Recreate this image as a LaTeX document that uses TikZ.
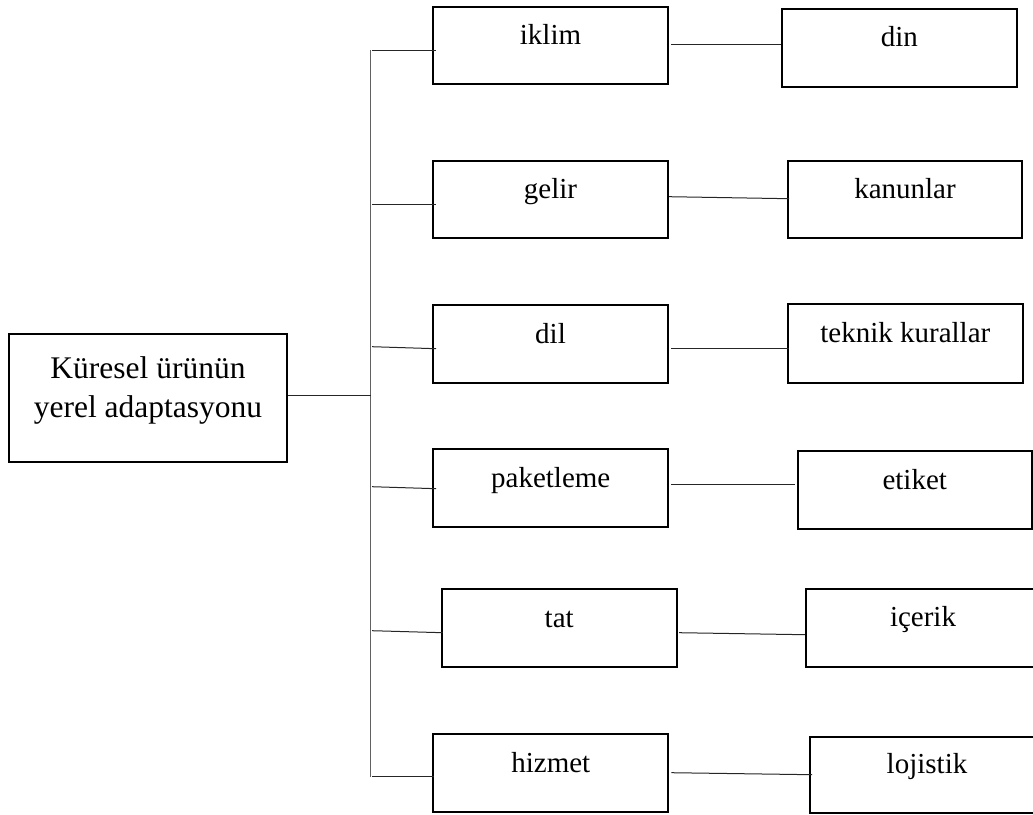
\documentclass[tikz,border=0pt]{standalone}
\usepackage{fontspec}
\setmainfont{Liberation Serif}
\begin{document}
\begin{tikzpicture}[x=1pt,y=-1pt,
  box/.style={draw=black, line width=2pt, rectangle, inner sep=0pt,
    minimum width=235pt, minimum height=77pt,
    font=\fontsize{29}{34}\selectfont, text height=10pt, text depth=12pt},
  link/.style={draw=black!85, line width=1pt},
  spine/.style={draw=black!62, line width=1.4pt}]
\useasboundingbox (0,0) rectangle (1033,814);
\clip (0,0) rectangle (1033,814);

% root box
\node[box, minimum width=277.4pt, minimum height=128pt, align=center,
      font=\fontsize{31.5}{39}\selectfont, text height=45pt, text depth=6.6pt]
      (main) at (148,398.3) {Küresel ürünün\\yerel adaptasyonu};

% first column
\node[box] (iklim) at (550.5,45.5) {iklim};
\node[box] (gelir) at (550.5,199.5) {gelir};
\node[box, minimum height=78pt] (dil) at (550.5,344) {dil};
\node[box, minimum height=78pt] (paket) at (550.7,488) {paketleme};
\node[box, minimum height=78pt] (tat) at (559.2,628) {tat};
\node[box, minimum height=78pt] (hizmet) at (550.8,773.3) {hizmet};

% second column
\node[box, minimum width=234.7pt, minimum height=77.7pt] (din) at (899.3,47.8) {din};
\node[box, minimum width=234pt] (kanun) at (905,199.5) {kanunlar};
\node[box, minimum width=234.7pt, minimum height=78.7pt] (teknik) at (905.3,343.3) {teknik kurallar};
\node[box, minimum width=234pt, minimum height=78pt] (etiket) at (914.7,490) {etiket};
\node[box, minimum width=234pt, minimum height=77.7pt] (icerik) at (923,627.8) {içerik};
\node[box, minimum width=234pt, minimum height=76pt] (lojistik) at (927,774.7) {lojistik};

% spine and its branch points
\coordinate (top) at (370.5,50);
\coordinate (bot) at (370.5,777);
\coordinate (s0) at (370.5,395);
\coordinate (s1) at (372,50.7);
\coordinate (s2) at (372,204);
\coordinate (s3) at (372,346.7);
\coordinate (s4) at (372,486.7);
\coordinate (s5) at (372,630.7);
\coordinate (s6) at (372,776.7);
\draw[spine] (top) -- (bot);

\draw[link] ([yshift=3.3pt]main.east) -- (s0);
\draw[link] (s1) -- ([xshift=4pt,yshift=-5.2pt]iklim.west);
\draw[link] (s2) -- ([xshift=4pt,yshift=-4.5pt]gelir.west);
\draw[link] (s3) -- ([xshift=4pt,yshift=-4.7pt]dil.west);
\draw[link] (s4) -- ([xshift=4pt,yshift=-0.7pt]paket.west);
\draw[link] (s5) -- ([xshift=2pt,yshift=-4.7pt]tat.west);
\draw[link] (s6) -- ([xshift=1.5pt,yshift=-3.4pt]hizmet.west);

% links to the second column
\draw[link] ([xshift=2pt,yshift=1.2pt]iklim.east) -- ([yshift=3.5pt]din.west);
\draw[link] ([yshift=2.8pt]gelir.east) -- ([xshift=2pt,yshift=0.8pt]kanun.west);
\draw[link] ([xshift=2pt,yshift=-4.7pt]dil.east) -- ([xshift=2pt,yshift=-5.4pt]teknik.west);
\draw[link] ([xshift=2pt,yshift=3.3pt]paket.east) -- ([xshift=-1.5pt,yshift=5.3pt]etiket.west);
\draw[link] ([xshift=1.5pt,yshift=-4.7pt]tat.east) -- ([yshift=-6.9pt]icerik.west);
\draw[link] ([xshift=2pt,yshift=0.6pt]hizmet.east) -- ([xshift=3pt]lojistik.west);
\end{tikzpicture}
\end{document}
